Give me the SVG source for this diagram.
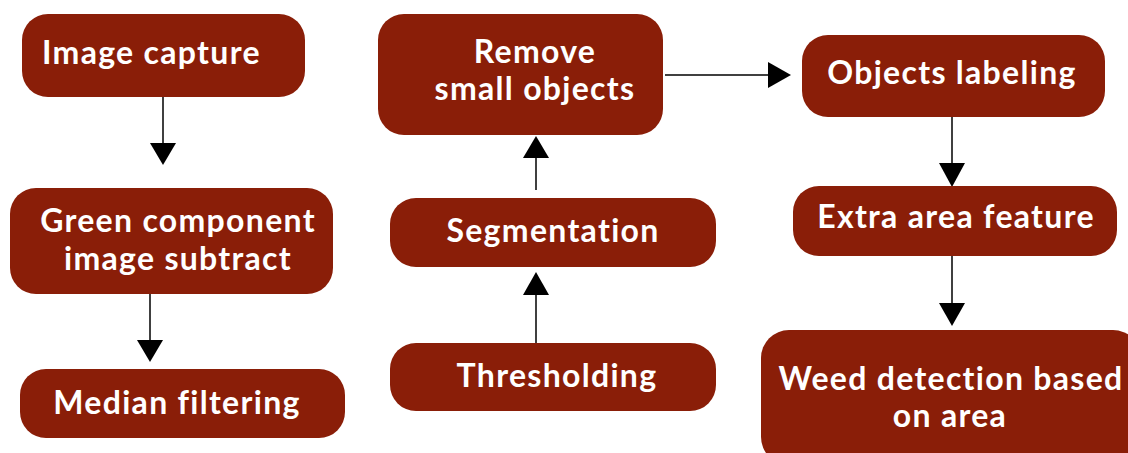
<svg xmlns="http://www.w3.org/2000/svg" width="1128" height="453" viewBox="0 0 1128 453">
<style>
.box{fill:#8a1e08}
.t{fill:#ffffff;font-family:Lato,"Open Sans","Liberation Sans",sans-serif;font-weight:bold;font-size:32px;letter-spacing:1.3px;font-variant-ligatures:none}
.c{text-anchor:middle}
.ln{stroke:#000;stroke-width:1.5;fill:none}
.hd{fill:#000}
</style>
<rect width="1128" height="453" fill="#fff"/>
<g id="connectors">
<line class="ln" x1="163" y1="97" x2="163" y2="145"/><polygon class="hd" points="150,143 176,143 163,165"/>
<line class="ln" x1="150" y1="294" x2="150" y2="342"/><polygon class="hd" points="137,340 163,340 150,362"/>
<line class="ln" x1="536" y1="343" x2="536" y2="293"/><polygon class="hd" points="523,295 549,295 536,272"/>
<line class="ln" x1="536" y1="190" x2="536" y2="156"/><polygon class="hd" points="523,158 549,158 536,136"/>
<line class="ln" x1="665" y1="75" x2="772" y2="75"/><polygon class="hd" points="768,62 768,88 791,75"/>
<line class="ln" x1="952" y1="117" x2="952" y2="165"/><polygon class="hd" points="939,163 965,163 952,187"/>
<line class="ln" x1="952" y1="256" x2="952" y2="305"/><polygon class="hd" points="939,303 965,303 952,326"/>
</g>
<g id="n1"><rect class="box" x="22" y="14" width="283" height="83" rx="26"/><text class="t" x="42" y="64">Image capture</text></g>
<g id="n2"><rect class="box" x="10" y="188" width="323" height="106" rx="26"/><text class="t c" x="178" y="232">Green component</text><text class="t c" x="178" y="270">image subtract</text></g>
<g id="n3"><rect class="box" x="20" y="369" width="325" height="69" rx="26"/><text class="t c" x="177" y="414">Median filtering</text></g>
<g id="n4"><rect class="box" x="378" y="14" width="285" height="121" rx="26"/><text class="t c" x="535" y="63">Remove</text><text class="t c" x="535" y="100">small objects</text></g>
<g id="n5"><rect class="box" x="390" y="198" width="326" height="69" rx="26"/><text class="t c" x="553" y="242">Segmentation</text></g>
<g id="n6"><rect class="box" x="390" y="343" width="326" height="68" rx="26"/><text class="t c" x="557" y="387">Thresholding</text></g>
<g id="n7"><rect class="box" x="802" y="35" width="303" height="82" rx="26"/><text class="t c" x="952" y="84">Objects labeling</text></g>
<g id="n8"><rect class="box" x="793" y="186" width="324" height="70" rx="26"/><text class="t c" x="956" y="228">Extra area feature</text></g>
<g id="n9"><rect class="box" x="761" y="330" width="380" height="135" rx="28"/><text class="t c" x="951" y="390">Weed detection based</text><text class="t c" x="950" y="427">on area</text></g>
</svg>
